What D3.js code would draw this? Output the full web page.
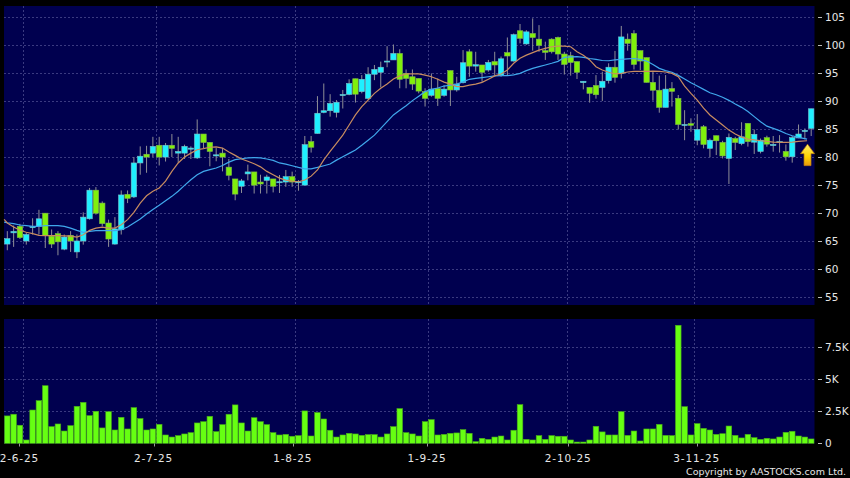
<!DOCTYPE html>
<html><head><meta charset="utf-8">
<script src="https://cdn.jsdelivr.net/npm/d3@7"></script>
<style>html,body{margin:0;padding:0;background:#000;overflow:hidden}svg{display:block}text{font-family:"DejaVu Sans",sans-serif}</style>
</head><body><svg id="c" width="850" height="478"></svg>
<script>
const bodyTop=[65.46,66.75,67.65,66.2,67.6,69,70,65.9,66.35,65.75,66.05,65.05,69.3,74.1,74.1,71.8,68.25,67.2,73.25,73.35,78.95,80.15,80.5,81.9,82.1,82.1,82.1,81,81.9,81.6,84.1,84.1,82.6,80.4,80.7,78.2,76.1,75.75,77.35,77.35,75.55,76.45,76.1,75.6,76.5,76.5,75.6,82.2,82.75,87.8,88.25,89.55,89.75,91.15,93.1,93.95,93.85,94.75,95.6,96,97.1,98.45,98.45,94.9,94.3,94,91.65,92.1,92.2,92.1,95.4,93,96.8,98.75,96.45,96.4,96.85,97,97.5,98.6,101.8,102.5,102.3,102,101,98.95,101,101.3,98.35,98.05,97,93.5,92.4,92.75,93.5,96,96,101.4,101,102,98.95,97.7,93.3,91.9,92.1,92.2,90.45,85.8,85.95,84.9,85.4,83,83.8,82.6,83.5,83.3,83.6,86,84.05,83,83.45,82.25,82.75,81,83.45,84.1,84.75,88.6];
const bodyBottom=[64.5,66.5,65.65,65.05,67.5,67.65,66.05,64.5,64.9,63.6,65.05,63.1,65.05,69,70,68.15,65.4,64.5,67.05,72.65,72.9,78.95,80,80.7,80,80,81.55,80.7,80.7,81.4,79.85,82.6,81,80.2,80,76.75,73.4,74.8,77,75,75.2,75.85,74.8,75.45,75.55,75.55,75.5,75,81.75,84.2,87.95,88.25,87.95,90.95,91.15,91.2,91.65,90.45,94.75,95.1,96.95,97.3,93.85,94,93,91.75,90.45,91,90.45,91,91.95,91.95,93.25,96.2,96.2,95.1,95.5,96.4,94.5,98,97.1,101.15,100.15,101.3,99.9,98.65,98.75,98.35,96.5,96.85,95.1,93.25,91.35,91.1,92.4,93.6,94.2,94.9,100.25,96.5,97.1,93.3,91.9,88.85,88.85,91.7,85.8,85.65,85.65,83,82.25,81.55,82.9,80.2,79.75,82.6,82.4,82.75,82.65,81,82.3,82.05,82.6,80.05,80.05,83.4,84.55,85.1];
const wickHigh=[66.8,67.8,68.1,66.6,69.1,70.6,70,67.1,66.8,66.2,66.8,66.2,70.15,74.5,74.65,72.1,68.85,69.3,74.05,74.05,80,81.9,82,83.6,83.6,82.5,84.1,83.6,82.2,81.9,86.7,84.1,82.6,81.6,81.6,79.65,76.1,76.1,78.65,77.35,76.85,76.85,76.1,76.8,77.7,77.4,75.9,83.75,83.75,90.85,93.1,91.2,90.15,91.95,93.85,93.95,94.6,96,96.4,97,99.75,100.05,99.2,95.6,95.6,94,92.25,94.9,94,92.8,95.4,94.3,99.05,99.2,98.75,96.4,97.3,98.75,97.9,101.3,102,103.7,102.6,104.7,103.5,100.55,101.15,101.45,98.75,98.75,97,93.5,92.4,94.6,95.2,96.7,98.9,103.35,102,102.6,98.95,97.7,95.2,94.5,94.6,93.35,91.05,88.35,86.9,87.65,85.7,83.3,83.8,82.9,84.2,83.6,86.2,86,84.9,83.3,83.8,83.75,83.9,82.25,83.75,85.8,85.1,88.6];
const wickLow=[63.4,64,65.4,64.4,66.2,66.2,63.8,63.8,62.5,63.4,63.1,62,64.4,68.85,69.75,67.65,64,64.4,66.2,71.8,72.7,76.85,77.2,80,78.5,79.2,80,79,79.65,79.65,79.65,81.6,78.35,79.25,77.45,75.85,72.3,73.6,75.85,73.5,73.5,73.5,73.7,73.6,74.7,74.7,74,75,80.8,84.2,87.8,87.2,87.05,88.65,91,89.7,91.35,90.25,93.7,92.4,96,97.3,92.25,92.25,91.95,91.35,89,90.75,89.1,90.75,89.1,91.65,93.1,94.3,95.2,93.4,95.2,94.6,94.3,94.6,97,100.25,100,98.95,98.75,97.3,98.45,97.3,94.7,94.5,93.9,92.05,89.7,90.4,90,93.1,93.25,94,98.95,95.6,95.5,93.3,90.05,87.9,88.85,89,84.9,83,84.5,82.1,81.55,79.95,80.35,79.75,75.2,81.25,82.1,81.85,80.55,80.65,81.85,80.95,80.8,79.35,79,83.35,83.15,83.75];
const direction=["UUDUUUDDDU","DUUUDDDUUD","UUDUDUDUUU","UDDUDDDUUD","DUDUUDUUDU","UUUUUDUUUU","UUDDDDDUDU","DUUDUDUDUD","UDUDDDDDDD","DUDDUUDUDD","DDDDUDDUDU","DUDDUDUDUU","DUUDUUUU"].join("").split("");
const volumes=[2.14,2.27,1.41,0.26,2.6,3.33,4.5,1.3,1.51,0.96,1.38,2.89,3.2,2.16,2.5,1.2,2.47,1.04,2.03,1.12,2.79,1.93,1.04,1.12,1.48,0.65,0.49,0.6,0.73,0.83,1.59,1.69,2.11,0.91,1.46,2.27,3,1.59,0.96,2,1.69,1.46,0.83,0.65,0.7,0.55,0.6,2.53,0.57,2.4,1.9,1.02,0.49,0.65,0.78,0.73,0.62,0.68,0.68,0.49,0.73,1.3,2.71,0.83,0.73,0.57,1.69,1.85,0.65,0.7,0.78,0.81,1.07,0.78,0.13,0.39,0.31,0.49,0.57,0.26,1.02,3.02,0.31,0.26,0.6,0.31,0.6,0.55,0.55,0.26,0.1,0.1,0.26,1.33,0.89,0.65,0.65,2.47,0.62,0.96,0.18,1.12,1.12,1.48,0.62,0.6,9.22,2.86,0.65,1.54,1.17,1.04,0.7,0.75,1.35,0.62,0.42,0.7,0.44,0.31,0.39,0.34,0.49,0.86,0.94,0.57,0.49,0.34];
const maShort=[68.9,68.25,67.55,66.95,66.6,66.35,66.05,66,66,66,65.95,65.9,65.75,66.15,66.95,67.35,67.5,67.35,67.35,67.95,68.85,70.15,71.8,73.1,73.9,74.5,75.7,77.45,78.95,80,80.7,81.3,81.5,81.75,81.8,81.6,80.9,80.3,79.65,79.25,78.8,78.25,77.45,76.85,76.25,75.9,75.7,75.6,75.9,76.6,77.7,79.5,81,82.45,83.9,85.7,87.5,89,90.15,91.35,92.25,93,93.9,94.45,94.8,94.8,94.8,94.6,94.3,93.85,93.35,93,92.55,92.55,92.8,93,93.3,93.85,94.45,94.8,95.5,96.7,97.6,98.15,98.6,99.05,99.35,99.65,99.75,99.75,99.65,98.75,98.15,97.3,96.1,95.5,95.1,94.8,94.9,95.15,95.25,95.25,95.25,95.3,95.25,95.15,94.9,94.3,92.65,91.35,90.15,88.7,87.5,86.6,85.7,84.8,84.1,83.55,83.2,83.05,82.9,82.8,82.65,82.6,82.6,82.65,82.8,82.9];
const maLong=[68.4,68.3,68.15,67.9,67.8,67.65,67.65,67.8,67.8,67.8,67.65,67.35,66.95,66.6,66.75,66.9,66.9,66.9,66.9,67.05,67.55,68.25,68.95,69.85,70.65,71.4,72.2,73,73.9,74.95,75.95,76.85,77.45,77.75,78.05,78.5,79.1,79.55,79.7,79.85,79.9,79.85,79.65,79.4,78.95,78.75,78.45,78.15,77.9,77.9,78.15,78.45,78.75,79.45,80.05,80.65,81.25,82.1,83,83.9,85.1,86.3,87.5,88.35,89.15,90.05,90.85,91.65,92.05,92.3,92.65,92.8,93,93.4,93.85,94,94.15,94.3,94.45,94.5,94.5,94.65,94.9,95.4,95.8,96.1,96.4,96.7,97.05,97.75,97.85,97.9,97.75,97.55,97.4,97.2,97.15,97.3,97.4,97.5,97.55,97.4,97.1,96.5,95.8,95.4,95.1,94.55,93.9,93.25,92.65,92.05,91.45,91.1,90.65,90.1,89.45,88.85,88.1,87.2,86.3,85.5,85.1,84.7,84.2,83.8,83.5,83.2];
const maPositions=[-0.5].concat(d3.range(0,126),[126.35]);
const priceTicks=[55,60,65,70,75,80,85,90,95,100,105];
const volumeTicks=[0,2.5,5,7.5];
const volumeTickLabels=["0","2.5K","5K","7.5K"];
const gridPositions=[2.5,23.5,45.5,66.5,88.5,108.5];
const dateLabels=["2-6-25","2-7-25","1-8-25","1-9-25","2-10-25","3-11-25"];
const datePositions=[1.9,23.1,45.1,66.3,88.6,108.9];
const arrowPosition=126.42, arrowPrice=82.3;
const copyright="Copyright by AASTOCKS.com Ltd.";

const colors={bg:"#000",plot:"#00004f",grid:"#3a3a80",up:"#1ff0ff",down:"#80f00c",upEdge:"#78c4cc",downEdge:"#80b84c",wick:"#8f8f96",vol:"#66ff12",volEdge:"#48a81a",short:"#c88c60",long:"#40a8ec",text:"#e6e6e6"};
const L=4,R=814.5,PT=6,PB=305,VT=319,VB=443.5;
const svg=d3.select("#c");
const x=d3.scaleLinear().domain([0,127]).range([7.3,811.2]);
const yP=d3.scaleLinear().domain([55,105]).range([297.4,16.7]);
const yV=d3.scaleLinear().domain([0,7.5]).range([443.3,347.3]);

svg.append("rect").attr("width",850).attr("height",478).attr("fill",colors.bg);
[[PT,PB],[VT,VB]].forEach(([t,b])=>svg.append("rect").attr("x",L).attr("y",t).attr("width",R-L).attr("height",b-t).attr("fill",colors.plot));

const dash="2,2";
const grid=svg.append("g").attr("stroke",colors.grid).attr("stroke-width",1).attr("stroke-dasharray",dash).attr("fill","none");
priceTicks.forEach(t=>{const y=Math.round(yP(t))+.5;grid.append("line").attr("x1",L).attr("x2",R).attr("y1",y).attr("y2",y);});
volumeTicks.slice(1).forEach(t=>{const y=Math.round(yV(t))+.5;grid.append("line").attr("x1",L).attr("x2",R).attr("y1",y).attr("y2",y);});
gridPositions.forEach(p=>{const X=Math.round(x(p))+.5;
  grid.append("line").attr("x1",X).attr("x2",X).attr("y1",PT).attr("y2",PB);
  grid.append("line").attr("x1",X).attr("x2",X).attr("y1",VT).attr("y2",VB);});

const idx=d3.range(bodyTop.length);
const c=svg.append("g");
c.selectAll("line").data(idx).join("line")
 .attr("x1",i=>x(i)).attr("x2",i=>x(i))
 .attr("y1",i=>yP(wickHigh[i])).attr("y2",i=>yP(wickLow[i]))
 .attr("stroke",colors.wick).attr("stroke-width",1);
c.selectAll("rect").data(idx).join("rect")
 .attr("x",i=>x(i)-2.7).attr("width",5.4)
 .attr("y",i=>yP(bodyTop[i])).attr("height",i=>Math.max(1,yP(bodyBottom[i])-yP(bodyTop[i])))
 .attr("fill",i=>direction[i]==="U"?colors.up:colors.down)
 .attr("stroke",i=>direction[i]==="U"?colors.upEdge:colors.downEdge).attr("stroke-width",.6);

const line=(arr)=>d3.line().x((d,i)=>x(maPositions[i])).y(d=>yP(d)).curve(d3.curveLinear)(arr);
svg.append("path").attr("d",line(maLong)).attr("fill","none").attr("stroke",colors.long).attr("stroke-width",1.2);
svg.append("path").attr("d",line(maShort)).attr("fill","none").attr("stroke",colors.short).attr("stroke-width",1.2);

const defs=svg.append("defs");
const g=defs.append("linearGradient").attr("id","arr").attr("x1",0).attr("y1",0).attr("x2",0).attr("y2",1);
g.append("stop").attr("offset","0").attr("stop-color","#ffee66");
g.append("stop").attr("offset","0.6").attr("stop-color","#ffd400");
g.append("stop").attr("offset","1").attr("stop-color","#e8960c");
const ax=x(arrowPosition),ay=yP(arrowPrice);
svg.append("path").attr("d",`M${ax},${ay}l7,9.5h-3.5v12h-7v-12h-3.5z`).attr("fill","url(#arr)").attr("stroke","#b87a10").attr("stroke-width",.7);

svg.append("g").selectAll("rect").data(idx).join("rect")
 .attr("x",i=>x(i)-2.8).attr("width",5.6)
 .attr("y",i=>yV(volumes[i])).attr("height",i=>yV(0)-yV(volumes[i]))
 .attr("fill",colors.vol).attr("stroke",colors.volEdge).attr("stroke-width",.6);

const ax1=svg.append("g").attr("fill",colors.text).attr("font-size",10.5);
priceTicks.forEach(t=>{const y=yP(t);
  svg.append("line").attr("x1",818).attr("x2",822).attr("y1",Math.round(y)+.5).attr("y2",Math.round(y)+.5).attr("stroke","#bbb");
  ax1.append("text").attr("x",825).attr("y",y+4).text(t);});
volumeTicks.forEach((t,i)=>{const y=yV(t);
  svg.append("line").attr("x1",818).attr("x2",822).attr("y1",Math.round(y)+.5).attr("y2",Math.round(y)+.5).attr("stroke","#bbb");
  ax1.append("text").attr("x",825).attr("y",y+4).text(volumeTickLabels[i]);});
dateLabels.forEach((t,i)=>{const X=x(datePositions[i]);
  svg.append("line").attr("x1",Math.round(X)+.5).attr("x2",Math.round(X)+.5).attr("y1",VB).attr("y2",VB+3).attr("stroke","#999");
  ax1.append("text").attr("x",X).attr("y",462).attr("text-anchor","middle").attr("letter-spacing",.8).text(t);});
svg.append("text").attr("x",846).attr("y",475).attr("text-anchor","end").attr("font-size",9.5).attr("fill",colors.text).text(copyright);
</script></body></html>
